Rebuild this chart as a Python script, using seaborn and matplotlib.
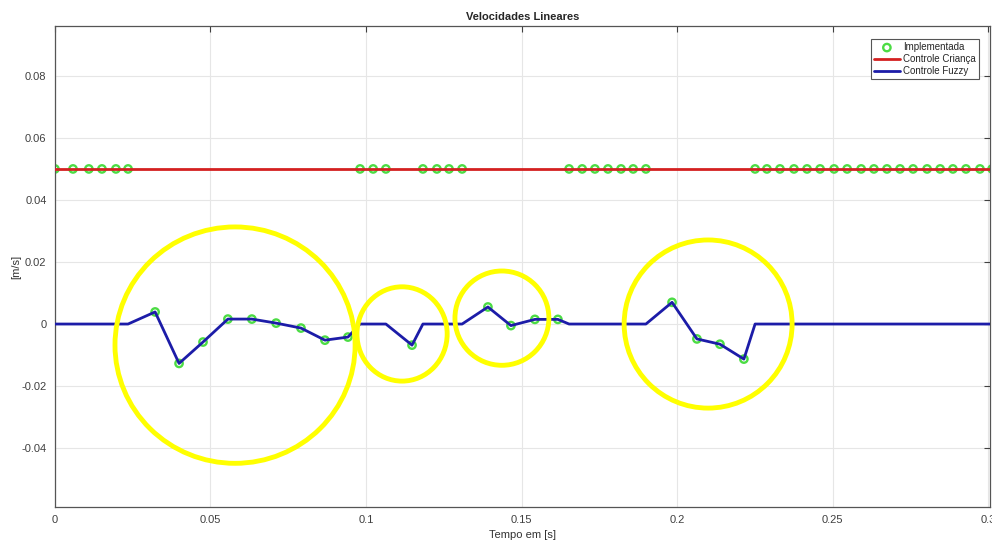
import matplotlib
matplotlib.use("Agg")
import matplotlib.pyplot as plt
from matplotlib.patches import Ellipse
import numpy as np
import pandas as pd
import seaborn as sns

# instantes em que o controle da criança foi implementado
t_crianca = [0.0, 0.0058, 0.0109, 0.0151, 0.0196, 0.0235,
             0.0981, 0.1023, 0.1064,
             0.1183, 0.1228, 0.1267, 0.1309,
             0.1653, 0.1695, 0.1736, 0.1778, 0.1820, 0.1859, 0.1900,
             0.2251, 0.2289, 0.2331, 0.2376, 0.2418, 0.2460, 0.2505,
             0.2547, 0.2592, 0.2633, 0.2675, 0.2717, 0.2759, 0.2804,
             0.2846, 0.2887, 0.2929, 0.2974, 0.3013]
v_crianca = 0.05

# instantes em que o controle fuzzy foi implementado
t_fuzzy = [0.0322, 0.0399, 0.0476, 0.0556, 0.0633, 0.0711, 0.0791, 0.0868, 0.0942,
           0.1148,
           0.1392, 0.1466, 0.1543, 0.1617,
           0.1984, 0.2064, 0.2138, 0.2215]
v_fuzzy = [0.0039, -0.0127, -0.0058, 0.0016, 0.0016, 0.0003, -0.0013, -0.0052, -0.0042,
           -0.0068,
           0.0055, -0.0005, 0.0015, 0.0015,
           0.0070, -0.0048, -0.0065, -0.0113]

# regioes destacadas (amarelo): centro x, centro y, raio x, raio y
circ_x = [0.0579, 0.1116, 0.1437, 0.2100]
circ_y = [-0.0068, -0.0032, 0.0019, 0.0]
circ_rx = [0.0386, 0.0145, 0.0151, 0.0270]
circ_ry = [0.0381, 0.0152, 0.0152, 0.0271]

# montar as series
df_c = pd.DataFrame({"t": t_crianca, "crianca": v_crianca, "fuzzy": 0.0})
df_f = pd.DataFrame({"t": t_fuzzy, "crianca": v_crianca, "fuzzy": v_fuzzy})
df = pd.concat([df_c, df_f]).sort_values("t").reset_index(drop=True)
impl = pd.concat([
    pd.DataFrame({"t": t_crianca, "v": v_crianca}),
    pd.DataFrame({"t": t_fuzzy, "v": v_fuzzy}),
])

sns.set_style("whitegrid")
plt.rcParams["font.family"] = ["Liberation Sans", "DejaVu Sans"]

fig = plt.figure(figsize=(9.92, 5.4), dpi=100)
ax = fig.add_axes([0.0554, 0.061, 0.9425, 0.891])

sns.scatterplot(data=impl, x="t", y="v", marker="o", s=28, facecolor="none",
                edgecolor="#4cdc44", linewidth=1.7, ax=ax, zorder=2,
                label="Implementada")
sns.lineplot(data=df, x="t", y="crianca", color="#d42020", linewidth=2,
             estimator=None, sort=False, ax=ax, label="Controle Criança", zorder=3)
sns.lineplot(data=df, x="t", y="fuzzy", color="#1c1ca8", linewidth=2,
             estimator=None, sort=False, ax=ax, label="Controle Fuzzy", zorder=3)

for cx, cy, rx, ry in zip(circ_x, circ_y, circ_rx, circ_ry):
    ax.add_patch(Ellipse((cx, cy), 2 * rx, 2 * ry, fill=False,
                         edgecolor="#ffff00", linewidth=3.5, zorder=5))

ax.set_xlim(0, 0.3006)
ax.set_ylim(-0.059, 0.0961)
ax.set_xticks([0, 0.05, 0.1, 0.15, 0.2, 0.25, 0.3])
ax.set_xticklabels(["0", "0.05", "0.1", "0.15", "0.2", "0.25", "0.3"])
ax.set_yticks([-0.04, -0.02, 0, 0.02, 0.04, 0.06, 0.08])
ax.set_yticklabels(["-0.04", "-0.02", "0", "0.02", "0.04", "0.06", "0.08"])
ax.grid(True, color="#e6e6e6", linewidth=0.8)
ax.tick_params(direction="in", length=4, width=0.8, labelsize=8,
               colors="#404040", top=True, right=True, pad=6)
for s in ax.spines.values():
    s.set_color("#555555")
    s.set_linewidth(0.9)

ax.set_xlabel("Tempo em [s]", fontsize=8, color="#333333", labelpad=3)
ax.set_ylabel("[m/s]", fontsize=8, color="#333333", labelpad=0)
ax.set_title("Velocidades Lineares", fontsize=8, fontweight="bold", pad=4)

h, l = ax.get_legend_handles_labels()
leg = ax.legend(h, l, loc="upper right",
                fontsize=7, fancybox=False, framealpha=1, edgecolor="#555555",
                borderpad=0.3, labelspacing=0.2, handlelength=2.6,
                handletextpad=0.4, bbox_to_anchor=(0.9936, 0.9825))
leg.get_frame().set_linewidth(0.8)

fig.savefig("out.png", dpi=100)
